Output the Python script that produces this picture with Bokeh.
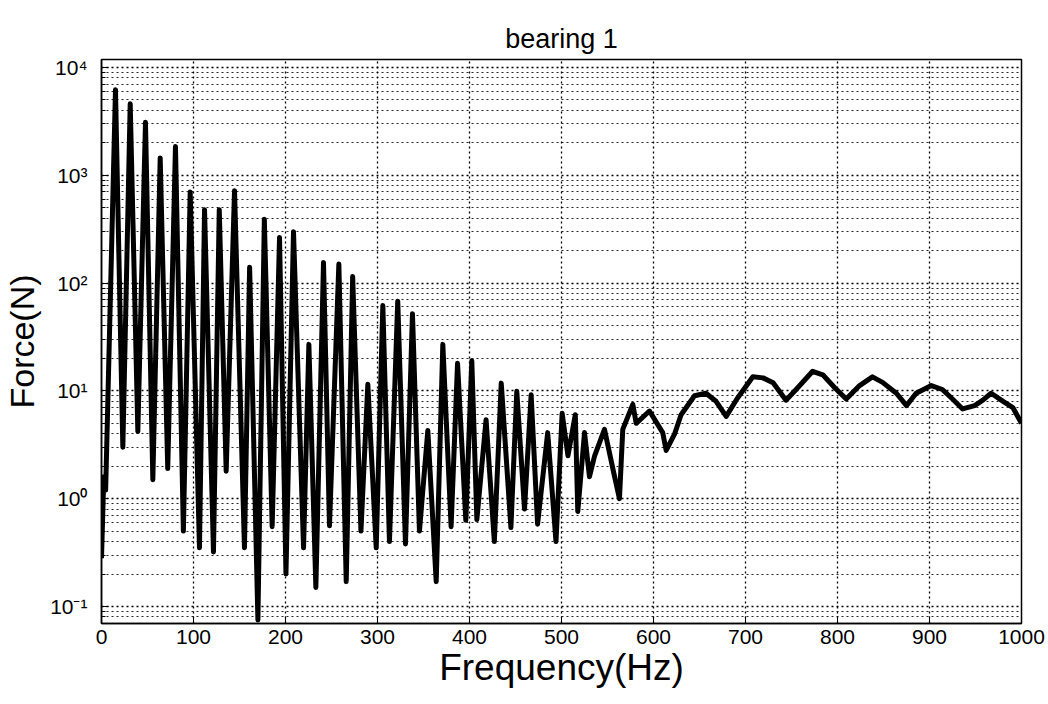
from bokeh.plotting import figure
from bokeh.models import FixedTicker, CustomJSTickFormatter, Range1d
from bokeh.embed import file_html
from bokeh.resources import INLINE

# Frequency (Hz) and force (N)
freq_hz = [0, 2.5, 4.5, 15.2, 23.2, 31.2, 39.5, 47.8, 55.8, 63.8,
           72.0, 80.4, 89.0, 96.4, 106.5, 112.0, 121.7, 128.0, 135.5, 144.6,
           155.4, 161.0, 170.0, 177.0, 185.5, 193.5, 200.5, 208.7, 219.6, 225.4,
           233.0, 241.3, 247.8, 258.0, 266.0, 273.0, 282.0, 289.5, 298.6, 305.8,
           313.0, 322.0, 330.4, 338.0, 345.6, 354.7, 363.8, 371.0, 380.0, 387.0,
           396.0, 402.5, 408.0, 418.0, 427.0, 434.5, 445.0, 451.4, 459.8, 467.0,
           474.0, 485.0, 494.0, 500.7, 507.0, 515.0, 517.7, 525.0, 530.4, 536.0,
           546.7, 555.8, 563.0, 566.6, 577.5, 581.2, 595.6, 610.0, 613.8, 623.0,
           630.0, 644.6, 657.0, 668.0, 679.0, 691.0, 708.0, 719.0, 730.0, 744.0,
           755.0, 773.0, 784.0, 797.0, 809.5, 824.0, 838.0, 849.0, 864.0, 875.0,
           885.5, 902.0, 914.0, 925.0, 936.0, 949.0, 958.0, 967.0, 980.0, 990.6,
           1000.0]
force_n = [0.28, 1.6, 1.2, 6200, 3.0, 4600, 4.2, 3100, 1.5, 1450,
           1.9, 1850, 0.5, 700, 0.35, 480, 0.32, 480, 1.8, 720,
           0.35, 140, 0.075, 390, 0.55, 265, 0.2, 300, 0.35, 27,
           0.15, 155, 0.56, 150, 0.17, 115, 0.5, 11.5, 0.35, 62,
           0.4, 68, 0.38, 52, 0.5, 4.3, 0.17, 27, 0.55, 18,
           0.63, 19, 0.64, 5.4, 0.4, 11.8, 0.54, 9.9, 0.8, 9.2,
           0.58, 4.1, 0.4, 6.2, 2.5, 6.0, 0.76, 4.1, 1.6, 2.5,
           4.4, 1.9, 1.0, 4.4, 7.5, 5.0, 6.5, 4.1, 2.8, 4.0,
           6.0, 9.0, 9.5, 8.0, 5.8, 8.5, 13.5, 13.2, 11.9, 8.2,
           10.3, 15.2, 14.1, 10.7, 8.4, 11.2, 13.5, 12.0, 9.5, 7.3,
           9.5, 11.2, 10.3, 8.4, 6.8, 7.3, 8.2, 9.5, 8.0, 7.0,
           5.0]

x_ticks = [0, 100, 200, 300, 400, 500, 600, 700, 800, 900, 1000]
y_ticks = [0.1, 1, 10, 100, 1000, 10000]
y_minor = [m * d for d in [0.01, 0.1, 1, 10, 100, 1000, 10000] for m in range(2, 10)]

FONT = "Liberation Sans"

p = figure(frame_width=920, frame_height=564, y_axis_type="log",
           x_range=Range1d(0, 1000), y_range=Range1d(0.0695, 11860),
           output_backend="svg", toolbar_location=None,
           min_border_left=94, min_border_top=59, min_border_right=26,
           min_border_bottom=66, background_fill_color="white",
           border_fill_color="white")

p.title.text = "bearing 1"
p.title.align = "center"
p.title.text_font = FONT
p.title.text_font_size = "27px"
p.title.text_font_style = "normal"
p.title.text_color = "black"
p.title.standoff = 12

p.line(freq_hz, force_n, line_width=5, color="black", line_join="round")

p.xaxis.ticker = FixedTicker(ticks=x_ticks)
p.yaxis.ticker = FixedTicker(ticks=y_ticks, minor_ticks=y_minor)
p.yaxis.formatter = CustomJSTickFormatter(code="""
const sup = {'0':'\u2070','1':'\u00b9','2':'\u00b2','3':'\u00b3','4':'\u2074','5':'\u2075','6':'\u2076','7':'\u2077','8':'\u2078','9':'\u2079','-':'\u207b'};
const e = Math.round(Math.log10(tick)).toString();
return '10' + e.split('').map(c => sup[c]).join('');
""")

for ax in p.axis:
    ax.major_label_text_font = FONT
    ax.major_label_text_font_size = "21px"
    ax.major_label_text_color = "black"
    ax.axis_label_text_font = FONT
    ax.axis_label_text_font_style = "normal"
    ax.axis_label_text_color = "black"
    ax.axis_line_color = "black"
    ax.axis_line_width = 1.5
    ax.major_tick_in = 7
    ax.major_tick_out = 0
    ax.minor_tick_in = 4
    ax.minor_tick_out = 0
    ax.major_tick_line_color = "black"
    ax.minor_tick_line_color = "black"

p.xaxis.axis_label = "Frequency(Hz)"
p.xaxis.axis_label_text_font_size = "37px"
p.xaxis.axis_label_standoff = 0
p.xaxis.major_label_standoff = 6
p.xaxis.minor_tick_line_color = None

p.yaxis.axis_label = "Force(N)"
p.yaxis.axis_label_text_font_size = "34px"
p.yaxis.axis_label_standoff = 6
p.yaxis.major_label_standoff = 14

p.xgrid.grid_line_color = "black"
p.xgrid.grid_line_dash = "2 3"
p.xgrid.grid_line_width = 1.3
p.ygrid.grid_line_color = "black"
p.ygrid.grid_line_dash = "2 3"
p.ygrid.grid_line_width = 1.3
p.ygrid.minor_grid_line_color = "black"
p.ygrid.minor_grid_line_dash = "2 3"
p.ygrid.minor_grid_line_width = 1.0
p.ygrid.minor_grid_line_alpha = 0.85

p.outline_line_color = "black"
p.outline_line_width = 1.5
p.outline_line_alpha = 1.0

open("out.html", "w").write(file_html(p, INLINE))
